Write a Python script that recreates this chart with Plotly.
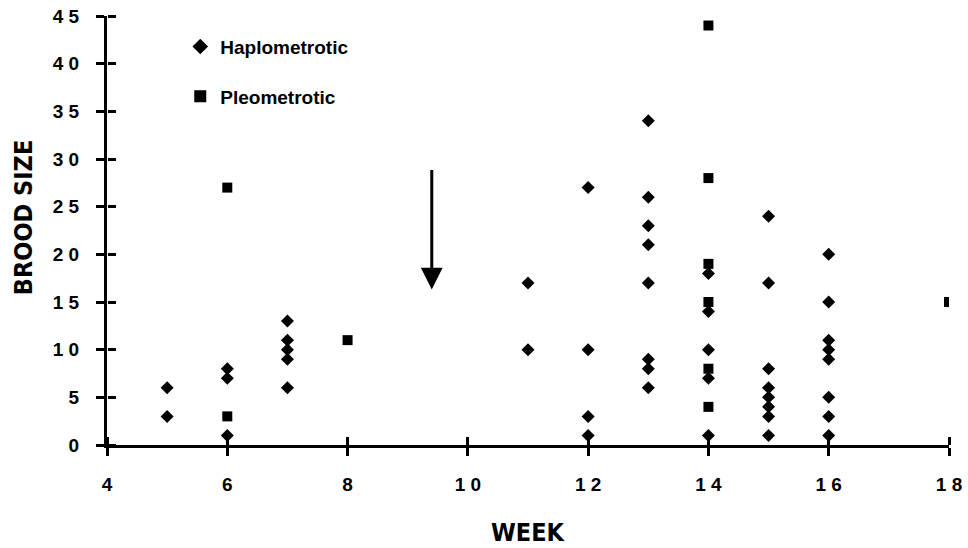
import plotly.graph_objects as go

# Data
haplo_week = [5, 5,
              6, 6, 6,
              7, 7, 7, 7, 7,
              11, 11,
              12, 12, 12, 12,
              13, 13, 13, 13, 13, 13, 13, 13,
              14, 14, 14, 14, 14,
              15, 15, 15, 15, 15, 15, 15, 15,
              16, 16, 16, 16, 16, 16, 16, 16]
haplo_brood = [6, 3,
               8, 7, 1,
               13, 11, 10, 9, 6,
               17, 10,
               27, 10, 3, 1,
               34, 26, 23, 21, 17, 9, 8, 6,
               18, 14, 10, 7, 1,
               24, 17, 8, 6, 5, 4, 3, 1,
               20, 15, 11, 10, 9, 5, 3, 1]

pleo_week = [6, 6, 8, 14, 14, 14, 14, 14, 14, 18]
pleo_brood = [27, 3, 11, 44, 28, 19, 15, 8, 4, 15]

x_ticks = [4, 6, 8, 10, 12, 14, 16, 18]
y_ticks = [0, 5, 10, 15, 20, 25, 30, 35, 40, 45]
y_tick_text = ["0", "5", "1 0", "1 5", "2 0", "2 5", "3 0", "3 5", "4 0", "4 5"]
x_tick_text = ["4", "6", "8", "1 0", "1 2", "1 4", "1 6", "1 8"]

x_title = "WEEK"
y_title = "BROOD SIZE"

arrow_week = 9.4
arrow_top, arrow_tip = 29, 16.3

font_main = "Liberation Sans, Arial, sans-serif"
font_narrow = "DejaVu Sans Condensed, Liberation Sans Narrow, Arial Narrow, sans-serif"

fig = go.Figure()
fig.add_trace(go.Scatter(
    x=haplo_week, y=haplo_brood, mode="markers", name="<b>Haplometrotic</b>",
    legendgroup="h",
    marker=dict(symbol="diamond", size=10, color="black")))
fig.add_trace(go.Scatter(
    x=pleo_week, y=pleo_brood, mode="markers", name="<b>Pleometrotic</b>",
    legendgroup="p",
    marker=dict(symbol="square", size=10, color="black")))

# invisible trace on overlay axes that draw the inward half of each tick
fig.add_trace(go.Scatter(x=[4, 18], y=[0, 45], xaxis="x2", yaxis="y2",
                         mode="markers", marker=dict(opacity=0, size=1),
                         showlegend=False, hoverinfo="skip"))

fig.add_annotation(x=arrow_week, y=arrow_tip, ax=arrow_week, ay=arrow_top,
                   xref="x", yref="y", axref="x", ayref="y",
                   showarrow=True, arrowhead=2, arrowsize=1.45, arrowwidth=3,
                   arrowcolor="black", text="")

title_font = dict(family=font_narrow, size=25, color="black", weight="bold")
fig.add_annotation(text=f"<b>{y_title}</b>", xref="paper", yref="paper",
                   x=-0.0998, y=0.531, textangle=-90, showarrow=False,
                   xanchor="center", yanchor="middle", font=title_font)
fig.add_annotation(text=f"<b>{x_title}</b>", xref="paper", yref="paper",
                   x=0.501, y=-0.205, showarrow=False,
                   xanchor="center", yanchor="middle", font=title_font)

tickfont = dict(family=font_main, size=19, color="black", weight="bold")
axis_common = dict(showgrid=False, zeroline=False, showline=True,
                   linecolor="black", linewidth=3, ticks="outside",
                   ticklen=8, tickwidth=3, tickcolor="black",
                   tickfont=tickfont, automargin=False,
                   ticklabeloverflow="allow")

fig.update_layout(
    width=968, height=548,
    margin=dict(l=107, r=19, t=16, b=103),
    paper_bgcolor="white", plot_bgcolor="white",
    showlegend=True,
    legend=dict(x=0.087, y=0.973, xanchor="left", yanchor="top",
                bgcolor="rgba(0,0,0,0)", tracegroupgap=22,
                font=dict(family=font_main, size=19, color="black", weight="bold"),
                itemsizing="constant", itemwidth=30),
    xaxis=dict(range=[4, 18], tickvals=x_ticks,
               ticktext=[f"<b>{t}</b>" for t in x_tick_text],
               ticklabelstandoff=12, **axis_common),
    yaxis=dict(range=[0, 45], tickvals=y_ticks,
               ticktext=[f"<b>{t}</b>" for t in y_tick_text],
               ticklabelstandoff=13, **axis_common),
    xaxis2=dict(range=[4, 18], overlaying="x", anchor="free", position=0,
                side="top", tickvals=x_ticks,
                showticklabels=False, showgrid=False, zeroline=False,
                showline=False, ticks="outside", ticklen=8, tickwidth=3,
                tickcolor="black", automargin=False),
    yaxis2=dict(range=[0, 45], overlaying="y", anchor="free", position=0,
                side="right", tickvals=y_ticks,
                showticklabels=False, showgrid=False, zeroline=False,
                showline=False, ticks="outside", ticklen=8, tickwidth=3,
                tickcolor="black", automargin=False),
)

# remove the default 8px page margin so the 968x548 figure fills the window exactly
fig.write_html("out.html",
               config={"displayModeBar": False},
               post_script="document.body.style.margin='0';"
                           "document.body.style.overflow='hidden';")
